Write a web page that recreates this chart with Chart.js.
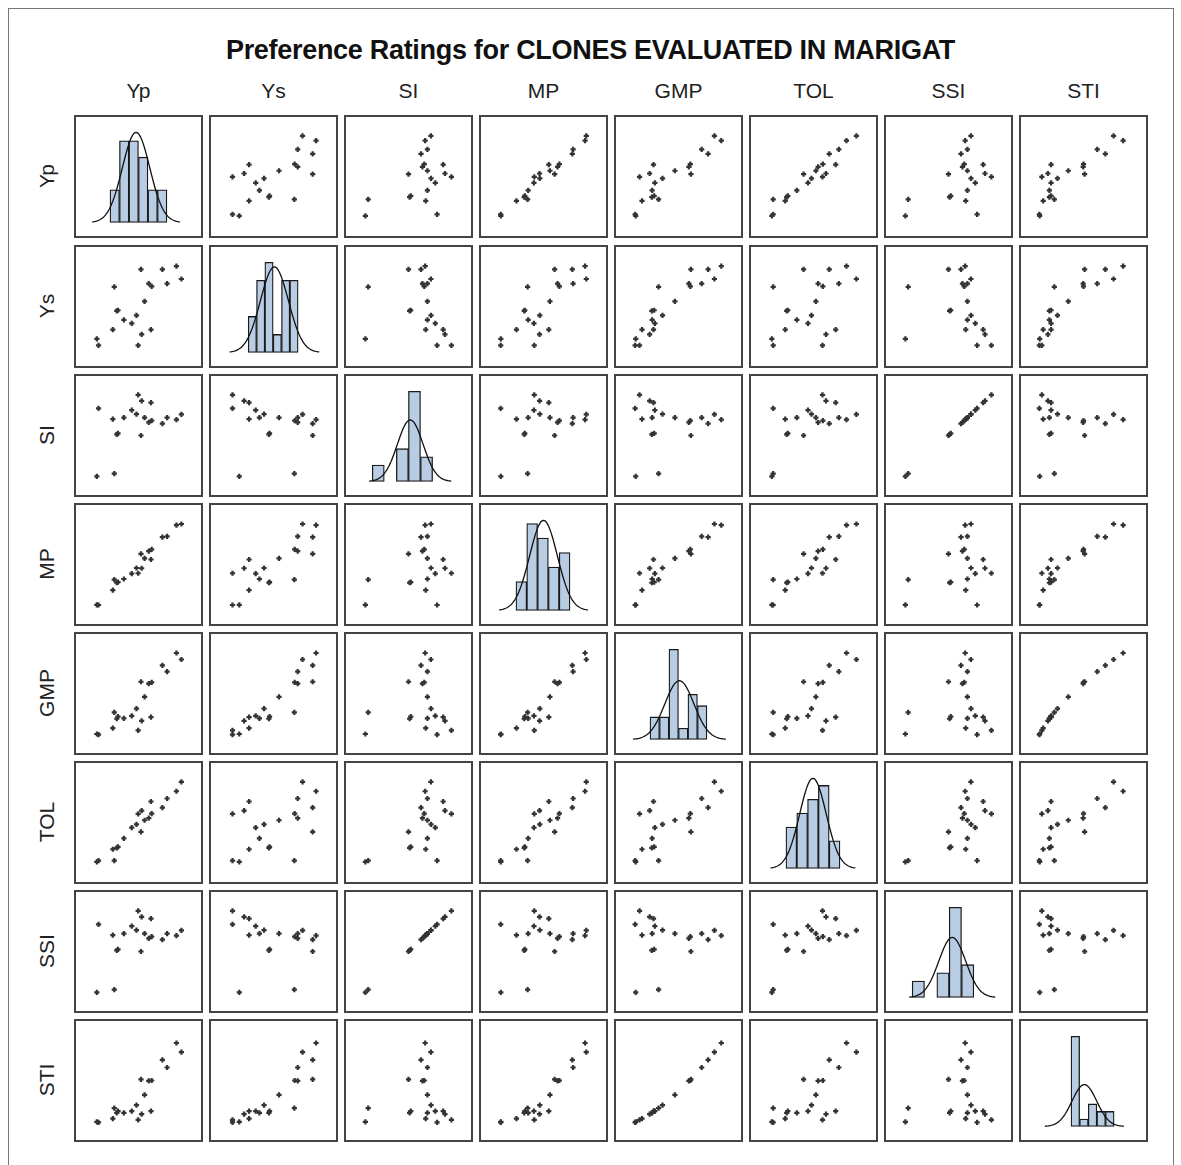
<!DOCTYPE html>
<html>
<head>
<meta charset="utf-8">
<script src="https://cdn.jsdelivr.net/npm/chart.js@4.4.1/dist/chart.umd.min.js"></script>
<style>
  body { margin: 0; background: #fff; font-family: "Liberation Sans", Arial, sans-serif; }
  #frame { position: absolute; left: 8px; top: 8px; width: 1166px; height: 1160px; border: 1px solid #777; box-sizing: border-box; }
  #title { position: absolute; left: 0; width: 1181px; top: 35px; text-align: center; font-weight: bold; font-size: 27px; color: #111; letter-spacing: -0.3px; }
  .colLab { position: absolute; top: 79px; width: 129px; text-align: center; font-size: 21px; color: #222; }
  .rowLab { position: absolute; width: 123px; text-align: center; font-size: 21px; color: #222; transform: rotate(-90deg); transform-origin: center center; }
  .panel { position: absolute; width: 129px; height: 123px; border: 2px solid #444; box-sizing: border-box; background: #fff; }
  .panel canvas { display: block; }
</style>
</head>
<body>
<div id="frame"></div>
<div id="title">Preference Ratings for CLONES EVALUATED IN MARIGAT</div>
<div id="grid"></div>
<script>
var varNames = ['Yp', 'Ys', 'SI', 'MP', 'GMP', 'TOL', 'SSI', 'STI'];

// one value per clone (0 = low edge of a panel, 1 = high edge)
var Yp  = [0.522, 0.712, 0.837, 0.881, 0.285, 0.591, 0.617, 0.754, 0.554, 0.318, 0.307, 0.370, 0.482, 0.440, 0.272, 0.611, 0.528, 0.130, 0.145, 0.497];
var Ys  = [0.848, 0.848, 0.878, 0.758, 0.685, 0.715, 0.688, 0.715, 0.549, 0.465, 0.459, 0.375, 0.416, 0.342, 0.283, 0.283, 0.239, 0.196, 0.136, 0.136];
var SI  = [0.500, 0.611, 0.648, 0.699, 0.142, 0.624, 0.640, 0.668, 0.668, 0.520, 0.510, 0.668, 0.700, 0.738, 0.653, 0.808, 0.824, 0.117, 0.754, 0.881];
var MP  = [0.599, 0.756, 0.869, 0.880, 0.359, 0.625, 0.641, 0.763, 0.557, 0.334, 0.329, 0.364, 0.467, 0.415, 0.260, 0.547, 0.465, 0.121, 0.120, 0.418];
var GMP = [0.610, 0.763, 0.880, 0.819, 0.323, 0.592, 0.605, 0.706, 0.468, 0.284, 0.263, 0.266, 0.358, 0.290, 0.176, 0.278, 0.244, 0.120, 0.115, 0.154];
var TOL = [0.412, 0.640, 0.793, 0.881, 0.142, 0.541, 0.583, 0.725, 0.521, 0.272, 0.262, 0.352, 0.482, 0.451, 0.249, 0.697, 0.611, 0.130, 0.142, 0.580];
var SSI = [0.500, 0.611, 0.648, 0.699, 0.142, 0.624, 0.640, 0.668, 0.668, 0.520, 0.510, 0.668, 0.700, 0.738, 0.653, 0.808, 0.824, 0.117, 0.754, 0.881];
var STI = [0.510, 0.694, 0.852, 0.767, 0.241, 0.497, 0.500, 0.622, 0.365, 0.212, 0.197, 0.197, 0.269, 0.212, 0.142, 0.212, 0.184, 0.111, 0.108, 0.130];

// histogram counts on the diagonal
var YpBins  = [2, 5, 5, 4, 2, 2];
var YsBins  = [2, 4, 5, 1, 4, 4];
var SIBins  = [2, 0, 4, 11, 3];
var MPBins  = [2, 6, 5, 3, 4];
var GMPBins = [2, 2, 8, 1, 4, 3];
var TOLBins = [3, 4, 5, 6, 2];
var SSIBins = [2, 0, 3, 11, 4];
var STIBins = [12, 1, 3, 2, 2];

var values = { Yp: Yp, Ys: Ys, SI: SI, MP: MP, GMP: GMP, TOL: TOL, SSI: SSI, STI: STI };
var bins = { Yp: YpBins, Ys: YsBins, SI: SIBins, MP: MPBins, GMP: GMPBins, TOL: TOLBins, SSI: SSIBins, STI: STIBins };

// x range of each diagonal panel, in bin units (bin k is centred on k)
var histRange = {
  Yp: [-3.08, 10.09], Ys: [-3.97, 11.05], SI: [-1.67, 8.68], MP: [-2.73, 8.83],
  GMP: [-3.08, 10.09], TOL: [-2.73, 8.83], SSI: [-1.62, 8.51], STI: [-5.3, 9.2]
};

var grid = document.getElementById('grid');
var colX = [74, 209, 344, 479, 614, 749, 884, 1019];
var rowY = [115, 245, 374, 503, 632, 761, 890, 1019];

varNames.forEach(function (name, j) {
  var d = document.createElement('div');
  d.className = 'colLab';
  d.style.left = colX[j] + 'px';
  d.textContent = name;
  grid.appendChild(d);

  var r = document.createElement('div');
  r.className = 'rowLab';
  r.style.left = (46 - 61) + 'px';
  r.style.top = (rowY[j] + 49) + 'px';
  r.textContent = name;
  grid.appendChild(r);
});

var baseOpts = {
  animation: false,
  responsive: false,
  events: [],
  layout: { padding: 0 },
  plugins: { legend: { display: false }, tooltip: { enabled: false } }
};

function noTicks(axis) { axis.ticks = []; }

function makeCanvas(i, j) {
  var p = document.createElement('div');
  p.className = 'panel';
  p.style.left = colX[j] + 'px';
  p.style.top = rowY[i] + 'px';
  var c = document.createElement('canvas');
  c.width = 125;
  c.height = 119;
  p.appendChild(c);
  grid.appendChild(p);
  return c;
}

function scatterPanel(i, j) {
  var xs = values[varNames[j]], ys = values[varNames[i]];
  var pts = xs.map(function (x, k) { return { x: x, y: ys[k] }; });
  new Chart(makeCanvas(i, j), {
    type: 'scatter',
    data: {
      datasets: [{
        data: pts,
        pointStyle: 'cross',
        pointRadius: 2.6,
        borderWidth: 2.2,
        borderColor: '#333',
        backgroundColor: '#333'
      }]
    },
    options: Object.assign({}, baseOpts, {
      scales: {
        x: { type: 'linear', min: 0, max: 1, display: false },
        y: { type: 'linear', min: 0, max: 1, display: false }
      }
    })
  });
}

function histPanel(i) {
  var name = varNames[i];
  var counts = bins[name];
  var n = 0, s = 0, ss = 0;
  counts.forEach(function (c, k) { n += c; s += c * (k + 1); });
  var mean = s / n;
  counts.forEach(function (c, k) { ss += c * Math.pow(k + 1 - mean, 2); });
  var sd = Math.sqrt(ss / n);
  var peak = n / (sd * Math.sqrt(2 * Math.PI));

  // fitted normal density, scaled to counts
  var curve = [];
  for (var t = 0; t <= 80; t++) {
    var x = mean - 3.2 * sd + t * (6.4 * sd / 80);
    var z = (x - mean) / sd;
    curve.push({ x: x, y: peak * Math.exp(-0.5 * z * z) });
  }
  var top = Math.max(peak, Math.max.apply(null, counts));

  new Chart(makeCanvas(i, i), {
    type: 'bar',
    data: {
      datasets: [
        {
          type: 'line',
          data: curve,
          borderColor: '#111',
          borderWidth: 1.3,
          pointRadius: 0,
          fill: false,
          order: 0
        },
        {
          type: 'bar',
          data: counts.map(function (c, k) { return { x: k + 1, y: c }; }),
          backgroundColor: '#b8cce4',
          borderColor: '#1a1a1a',
          borderWidth: 1.3,
          borderSkipped: false,
          barPercentage: 1,
          categoryPercentage: 1,
          order: 1
        }
      ]
    },
    options: Object.assign({}, baseOpts, {
      scales: {
        x: { type: 'linear', min: histRange[name][0], max: histRange[name][1], display: false, afterBuildTicks: noTicks },
        y: { type: 'linear', min: -0.15 * top, max: 1.17 * top, display: false }
      }
    })
  });
}

for (var i = 0; i < 8; i++) {
  for (var j = 0; j < 8; j++) {
    if (i === j) histPanel(i);
    else scatterPanel(i, j);
  }
}
</script>
</body>
</html>
